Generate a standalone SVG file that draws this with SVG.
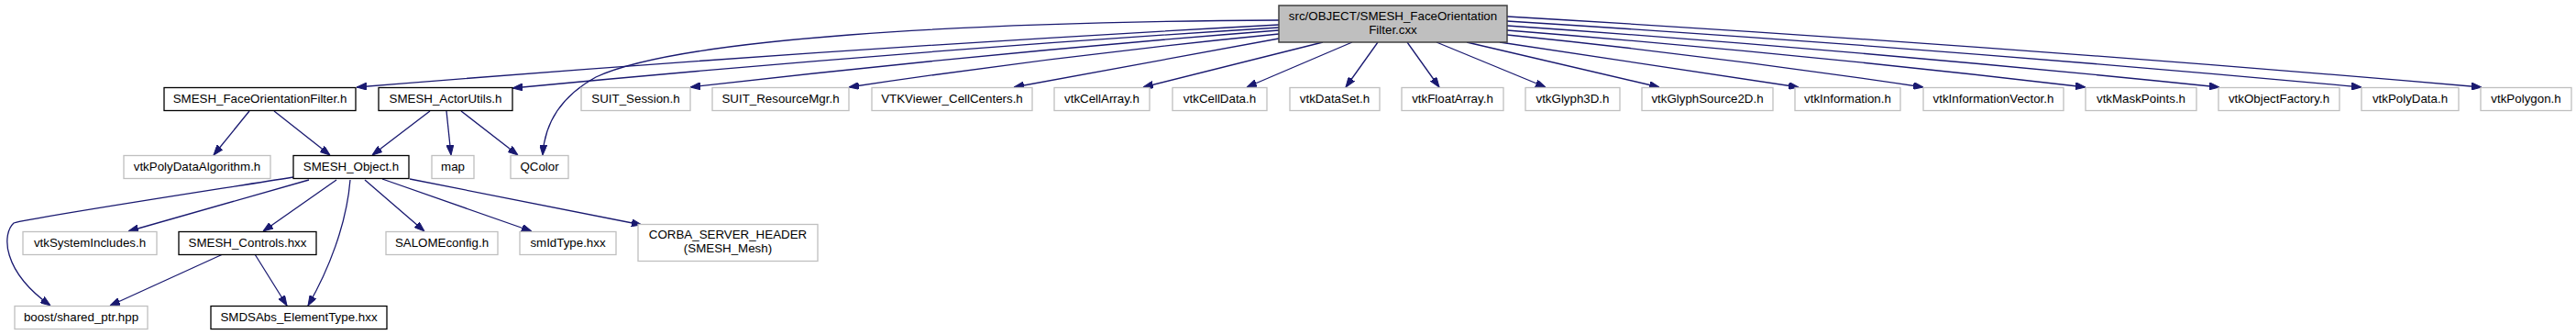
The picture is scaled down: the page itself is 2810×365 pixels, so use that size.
<svg xmlns="http://www.w3.org/2000/svg" width="2810" height="365" viewBox="0 0 2810 365">
<style>
text{font-family:"Liberation Sans",Arial,sans-serif;font-size:13.33px;text-anchor:middle;fill:#000}
.g rect{fill:#fff;stroke:#bfbfbf;stroke-width:1.3}
.b rect{fill:#fff;stroke:#000;stroke-width:1.3}
.top rect{fill:#bfbfbf;stroke:#404040;stroke-width:1.5}
#edges path{fill:none;stroke:#191970;stroke-width:1.3;marker-end:url(#arr)}
</style>
<defs>
<marker id="arr" viewBox="0 0 11 8" refX="11" refY="4" markerWidth="11" markerHeight="8" markerUnits="userSpaceOnUse" orient="auto">
<path d="M0,0 L11,4 L0,8 z" fill="#191970" stroke="#191970" stroke-width="1"/>
</marker>
</defs>
<rect width="2810" height="365" fill="#fff"/>
<g id="edges">
<path d="M1395,27 Q892,54 389,95"/>
<path d="M1395,30 Q977,56 559,96"/>
<path d="M1395,22 C1050,24 740,42 650,84 C612,105 594,135 592,169"/>
<path d="M1395,33 Q1074,58 753,95"/>
<path d="M1395,37 Q1160,60 926,95"/>
<path d="M1395,42 L1106,95"/>
<path d="M1443,46 L1247,95"/>
<path d="M1475,46 L1360,95"/>
<path d="M1503,46 L1468,95"/>
<path d="M1535,46 L1570,95"/>
<path d="M1567,46 L1686,95"/>
<path d="M1600,46 L1810,95"/>
<path d="M1636,46 L1962,95"/>
<path d="M1644,38 Q1871,61 2098,95"/>
<path d="M1644,33 Q1960,58 2275,95"/>
<path d="M1644,28 Q2032,55 2421,95"/>
<path d="M1644,23 Q2110,52 2576,95"/>
<path d="M1644,18 Q2175,49 2707,95"/>
<path d="M272,121 L233,169"/>
<path d="M299,121 L360,169"/>
<path d="M469,121 L406,169"/>
<path d="M487,121 L492,169"/>
<path d="M503,121 L565,169"/>
<path d="M320,193 C200,212 30,238 15,243 C2,255 2,295 55,333"/>
<path d="M337,196 L140,252"/>
<path d="M367,196 L287,252"/>
<path d="M382,196 C378,245 358,295 336,333"/>
<path d="M398,196 L463,252"/>
<path d="M417,195 L580,252"/>
<path d="M447,195 L700,245"/>
<path d="M243,277 L120,333"/>
<path d="M278,277 L313,333"/>
</g>
<g id="top" class="top"><rect x="1395" y="6" width="249" height="40"/><text x="1519.5" y="22">src/OBJECT/SMESH_FaceOrientation</text><text x="1519.5" y="37">Filter.cxx</text></g>
<g id="n1" class="b"><rect x="179" y="95.5" width="209" height="25"/><text x="283.5" y="112">SMESH_FaceOrientationFilter.h</text></g>
<g id="n2" class="b"><rect x="413" y="95.5" width="146" height="25"/><text x="486" y="112">SMESH_ActorUtils.h</text></g>
<g id="n3" class="g"><rect x="634" y="95.5" width="119" height="25"/><text x="693.5" y="112">SUIT_Session.h</text></g>
<g id="n4" class="g"><rect x="777" y="95.5" width="149" height="25"/><text x="851.5" y="112">SUIT_ResourceMgr.h</text></g>
<g id="n5" class="g"><rect x="951" y="95.5" width="175" height="25"/><text x="1038.5" y="112">VTKViewer_CellCenters.h</text></g>
<g id="n6" class="g"><rect x="1150" y="95.5" width="104" height="25"/><text x="1202" y="112">vtkCellArray.h</text></g>
<g id="n7" class="g"><rect x="1279" y="95.5" width="103" height="25"/><text x="1330.5" y="112">vtkCellData.h</text></g>
<g id="n8" class="g"><rect x="1407" y="95.5" width="98" height="25"/><text x="1456" y="112">vtkDataSet.h</text></g>
<g id="n9" class="g"><rect x="1529" y="95.5" width="111" height="25"/><text x="1584.5" y="112">vtkFloatArray.h</text></g>
<g id="n10" class="g"><rect x="1664" y="95.5" width="103" height="25"/><text x="1715.5" y="112">vtkGlyph3D.h</text></g>
<g id="n11" class="g"><rect x="1791" y="95.5" width="143" height="25"/><text x="1862.5" y="112">vtkGlyphSource2D.h</text></g>
<g id="n12" class="g"><rect x="1958" y="95.5" width="115" height="25"/><text x="2015.5" y="112">vtkInformation.h</text></g>
<g id="n13" class="g"><rect x="2098" y="95.5" width="153" height="25"/><text x="2174.5" y="112">vtkInformationVector.h</text></g>
<g id="n14" class="g"><rect x="2275" y="95.5" width="121" height="25"/><text x="2335.5" y="112">vtkMaskPoints.h</text></g>
<g id="n15" class="g"><rect x="2420" y="95.5" width="132" height="25"/><text x="2486" y="112">vtkObjectFactory.h</text></g>
<g id="n16" class="g"><rect x="2576" y="95.5" width="106" height="25"/><text x="2629" y="112">vtkPolyData.h</text></g>
<g id="n17" class="g"><rect x="2706" y="95.5" width="99" height="25"/><text x="2755.5" y="112">vtkPolygon.h</text></g>
<g id="n18" class="g"><rect x="135" y="169.5" width="160" height="25"/><text x="215" y="186">vtkPolyDataAlgorithm.h</text></g>
<g id="n19" class="b"><rect x="320" y="169.5" width="126" height="25"/><text x="383" y="186">SMESH_Object.h</text></g>
<g id="n20" class="g"><rect x="471" y="169.5" width="46" height="25"/><text x="494" y="186">map</text></g>
<g id="n21" class="g"><rect x="557" y="169.5" width="63" height="25"/><text x="588.5" y="186">QColor</text></g>
<g id="n22" class="g"><rect x="25" y="252.5" width="146" height="25"/><text x="98" y="269">vtkSystemIncludes.h</text></g>
<g id="n23" class="b"><rect x="195" y="252.5" width="150" height="25"/><text x="270" y="269">SMESH_Controls.hxx</text></g>
<g id="n24" class="g"><rect x="421" y="252.5" width="122" height="25"/><text x="482" y="269">SALOMEconfig.h</text></g>
<g id="n25" class="g"><rect x="567" y="252.5" width="105" height="25"/><text x="619.5" y="269">smIdType.hxx</text></g>
<g id="n26" class="g"><rect x="696" y="244.5" width="196" height="40"/><text x="794" y="260">CORBA_SERVER_HEADER</text><text x="794" y="275">(SMESH_Mesh)</text></g>
<g id="n27" class="g"><rect x="16" y="333.5" width="145" height="25"/><text x="88.5" y="350">boost/shared_ptr.hpp</text></g>
<g id="n28" class="b"><rect x="230" y="333.5" width="192" height="25"/><text x="326" y="350">SMDSAbs_ElementType.hxx</text></g>
</svg>
